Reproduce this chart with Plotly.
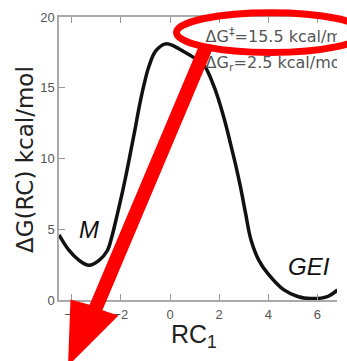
import plotly.graph_objects as go

# ---- data ----
rc1 = [-4.52, -4.11, -3.70, -3.30, -2.89, -2.55, -2.35, -2.14, -1.94, -1.77,
       -1.60, -1.43, -1.26, -1.06, -0.86, -0.58, -0.18, 0.16, 0.57, 0.91,
       1.38, 1.79, 2.06, 2.27, 2.47, 2.68, 2.88, 3.08, 3.29, 3.62,
       3.97, 4.64, 5.20, 5.73, 6.41, 6.82]
dG = [4.6, 3.5, 2.8, 2.45, 2.8, 3.5, 4.6, 6.1, 7.6, 9.0,
      10.5, 12.0, 13.6, 15.2, 16.5, 17.6, 18.1, 17.95, 17.55, 17.2,
      16.6, 15.1, 13.7, 12.4, 11.0, 9.5, 7.9, 6.1, 4.3, 2.8,
      1.9, 0.71, 0.25, 0.1, 0.24, 0.71]

x_ticks = [-4, -2, 0, 2, 4, 6]
y_ticks = [0, 5, 10, 15, 20]

state_labels = ["M", "GEI"]
state_x = [-3.31, 5.68]
state_y = [4.95, 2.4]

energy_text = ["ΔG<sup>‡</sup>=15.5 kcal/mol", "ΔG<sub>r</sub>=2.5 kcal/mol"]
energy_x = [1.45, 1.45]
energy_y = [18.5, 16.7]

# ---- geometry helpers (pixel -> paper) for the red overlay ----
L, R, T, B = 59, 337, 17, 300
W, H = 347, 361


def px(x):
    return (x - L) / (R - L)


def py(y):
    return (B - y) / (B - T)


arrow_pts = [(199.6, 44.3), (212.4, 49.7), (102.4, 310.2), (118.5, 315.5),
             (68.0, 366.0), (70.5, 299.5), (89.6, 304.8)]
arrow_path = "M " + " L ".join(f"{px(a):.5f},{py(b):.5f}" for a, b in arrow_pts) + " Z"

fig = go.Figure()
fig.add_trace(go.Scatter(
    x=rc1, y=dG, mode="lines", line=dict(color="#111111", width=3.5, shape="spline"),
    showlegend=False, hoverinfo="skip"))
fig.add_trace(go.Scatter(
    x=energy_x, y=energy_y, mode="text", text=energy_text,
    textposition="middle right", cliponaxis=True,
    textfont=dict(family="DejaVu Sans", size=16, color="#555555"),
    showlegend=False, hoverinfo="skip"))

axis_common = dict(
    showgrid=False, zeroline=False, showline=True, linecolor="#aaaaaa", linewidth=1.5,
    ticks="inside", ticklen=6, tickcolor="#999999", tickwidth=1.2,
    tickfont=dict(family="Liberation Sans", size=13, color="#555555"))

fig.update_xaxes(range=[-4.52, 6.80], tickvals=x_ticks, mirror="ticks",
                 ticklabelstandoff=2, **axis_common)
fig.update_yaxes(range=[0, 20], tickvals=y_ticks, mirror=False, **axis_common)

annotations = []
for lab, lx, ly in zip(state_labels, state_x, state_y):
    annotations.append(dict(x=lx, y=ly, xref="x", yref="y", text=f"<i>{lab}</i>",
                            showarrow=False, xanchor="center", yanchor="middle",
                            font=dict(family="Liberation Sans", size=24, color="#111111")))
annotations.append(dict(x=px(25), y=py(160), xref="paper", yref="paper",
                        text="ΔG(RC) kcal/mol", textangle=-90, showarrow=False,
                        xanchor="center", yanchor="middle",
                        font=dict(family="DejaVu Sans", size=23, color="#222222")))
annotations.append(dict(x=px(194), y=py(336), xref="paper", yref="paper",
                        text="RC<sub>1</sub>", showarrow=False,
                        xanchor="center", yanchor="middle",
                        font=dict(family="Liberation Sans", size=25, color="#222222")))

shapes = [
    dict(type="path", xref="paper", yref="paper", path=arrow_path,
         fillcolor="#ff0000", line=dict(width=0), layer="above"),
    dict(type="circle", xref="paper", yref="paper",
         x0=px(176.5), x1=px(364.5), y0=py(52.5), y1=py(12.7),
         line=dict(color="#ff0000", width=7), fillcolor="rgba(0,0,0,0)", layer="above"),
]

fig.update_layout(
    width=W, height=H, margin=dict(l=L, r=W - R, t=T, b=H - B),
    paper_bgcolor="white", plot_bgcolor="white",
    annotations=annotations, shapes=shapes, showlegend=False)

fig.write_html("out.html")
